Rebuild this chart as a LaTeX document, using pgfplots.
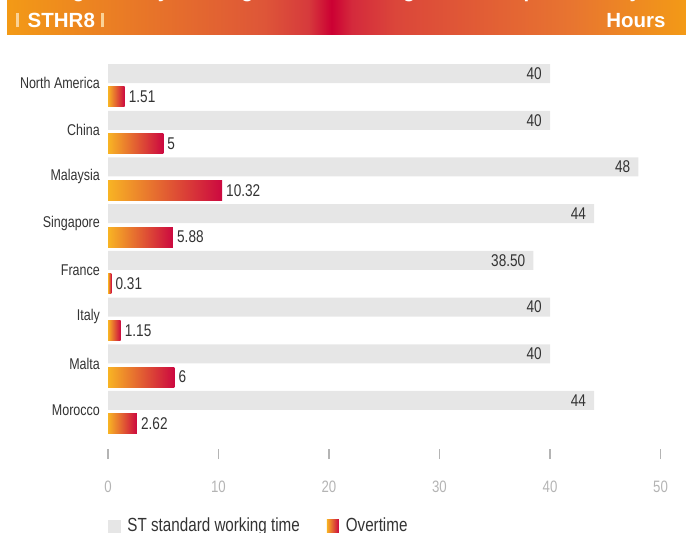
\documentclass[border=0pt]{standalone}
\usepackage{fontspec}
\setmainfont{Liberation Sans}[FakeStretch=0.8]
\newfontfamily\bannerfont{Liberation Sans}
\usepackage{pgfplots}
\pgfplotsset{compat=1.18}

\definecolor{barGray}{HTML}{E6E6E6}
\definecolor{otLeft}{HTML}{F8B424}
\definecolor{otMid}{HTML}{E4733A}
\definecolor{otRight}{HTML}{CC0840}
\definecolor{labelGray}{HTML}{333333}
\definecolor{tickGray}{HTML}{B4B4B4}
\definecolor{bnA}{HTML}{F39A16}
\definecolor{bnB}{HTML}{DE5638}
\definecolor{bnC}{HTML}{D63A3C}
\definecolor{bnD}{HTML}{CC0033}
\definecolor{bnE}{HTML}{D42A3C}
\definecolor{bnF}{HTML}{DB463A}
\definecolor{bnG}{HTML}{E87530}

\pgfdeclarehorizontalshading{banner}{100bp}{color(0bp)=(bnA); color(25bp)=(bnA);
  color(43.9bp)=(bnB); color(47.2bp)=(bnC); color(48.9bp)=(bnD); color(50.4bp)=(bnE);
  color(53.6bp)=(bnF); color(66.6bp)=(bnG); color(75bp)=(bnA); color(100bp)=(bnA)}

% one bar per plot so that every overtime bar gets its own gradient
\pgfplotsset{
  otbar/.style={xbar, bar width=20pt, bar shift=0pt,
    left color=otLeft, middle color=otMid, right color=otRight, draw=none,
    point meta=explicit symbolic, nodes near coords,
    every node near coord/.append style={anchor=west, xshift=4pt, inner sep=0pt,
      text=labelGray, font=\fontsize{17}{20}\selectfont}},
}

\begin{document}
\begin{tikzpicture}[x=1pt,y=1pt]
\useasboundingbox (0,-533) rectangle (686,0);

% title banner
\begin{scope}
  \clip (7,-34.7) rectangle (686,0);
  \shade[shading=banner] (7,-34.7) rectangle (686,0);
  \node[anchor=base west, inner sep=0pt, text=white,
        font=\bannerfont\bfseries\fontsize{20.5}{24}\selectfont]
    at (16,2.4) {Average weekly working time and average overtime per week by site};
\end{scope}
\node[anchor=base west, inner sep=0pt, text=white,
      font=\bannerfont\bfseries\fontsize{20.5}{24}\selectfont] at (15.7,-27.3)
  {\textcolor{white!55!bnA}{\rule{2.8pt}{14.6pt}}\hspace{9pt}STHR8\hspace{6pt}\textcolor{white!55!bnA}{\rule{3pt}{14.6pt}}};
\node[anchor=base east, inner sep=0pt, text=white,
      font=\bannerfont\bfseries\fontsize{20.5}{24}\selectfont] at (665.7,-27.3) {Hours};

\begin{axis}[
  at={(108pt,-449pt)}, anchor=south west,
  scale only axis, width=552.5pt, height=387.1pt,
  xmin=0, xmax=50, ymin=-0.5, ymax=7.789, y dir=reverse,
  clip=false,
  axis x line*=bottom, axis y line*=left,
  axis line style={draw=none},
  xtick={0,10,...,50},
  tick align=outside, major tick length=10pt,
  x tick style={draw=tickGray, line width=1.2pt},
  /pgf/number format/assume math mode=true,
  xticklabel style={text=tickGray, inner sep=0pt, yshift=-22pt,
                    font=\fontsize{16.5}{19}\selectfont},
  ytick={0,...,7},
  yticklabels={North America,China,Malaysia,Singapore,France,Italy,Malta,Morocco},
  y tick style={draw=none},
  yticklabel style={anchor=east, inner sep=0pt, xshift=2pt, yshift=2pt,
                    text=labelGray, font=\fontsize{15.6}{18}\selectfont},
  legend columns=2,
  legend style={draw=none, fill=none, inner sep=0pt, outer sep=0pt,
                at={(0,-0.1989)}, anchor=west,
                font=\fontsize{19}{22}\selectfont,
                cells={anchor=base west, inner sep=0pt, text=labelGray},
                /tikz/every odd column/.append style={column sep=5pt},
                /tikz/every even column/.append style={column sep=25pt}},
]
\addplot[xbar, bar width=19pt, bar shift=0pt, fill=barGray, draw=none,
  point meta=explicit symbolic, nodes near coords,
  every node near coord/.append style={anchor=east, xshift=-8pt, inner sep=0pt,
    text=labelGray, font=\fontsize{17}{20}\selectfont},
  legend image code/.code={\fill[barGray] (0pt,-4pt) rectangle (12.5pt,12pt);}]
  coordinates {(40,-0.25)[40] (40,0.75)[40] (48,1.75)[48] (44,2.75)[44]
               (38.5,3.75)[38.50] (40,4.75)[40] (40,5.75)[40] (44,6.75)[44]};
\addlegendentry{ST standard working time}
\addplot[otbar,
  legend image code/.code={\fill[left color=otLeft, middle color=otMid, right color=otRight]
    (0pt,-4pt) rectangle (12pt,12pt);}]
  coordinates {(1.51,0.25)[1.51]};
\addlegendentry{Overtime}
\addplot[otbar, forget plot] coordinates {(5,1.25)[5]};
\addplot[otbar, forget plot] coordinates {(10.32,2.25)[10.32]};
\addplot[otbar, forget plot] coordinates {(5.88,3.25)[5.88]};
\addplot[otbar, forget plot] coordinates {(0.31,4.25)[0.31]};
\addplot[otbar, forget plot] coordinates {(1.15,5.25)[1.15]};
\addplot[otbar, forget plot] coordinates {(6,6.25)[6]};
\addplot[otbar, forget plot] coordinates {(2.62,7.25)[2.62]};
\end{axis}
\end{tikzpicture}
\end{document}
